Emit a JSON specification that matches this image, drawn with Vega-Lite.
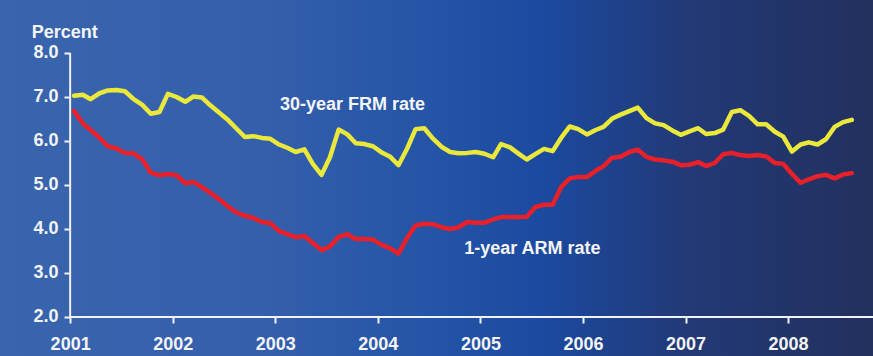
{
  "$schema": "https://vega.github.io/schema/vega-lite/v6.json",
  "width": 873,
  "height": 356,
  "autosize": "none",
  "padding": 0,
  "background": "#3965ae",
  "view": {
    "stroke": null,
    "fill": {
      "gradient": "linear",
      "x1": 0, "y1": 0, "x2": 1, "y2": 0,
      "stops": [
        {"offset": 0, "color": "#3965ae"},
        {"offset": 0.3, "color": "#345fac"},
        {"offset": 0.5, "color": "#2454a6"},
        {"offset": 0.62, "color": "#1b4aa0"},
        {"offset": 0.78, "color": "#223a78"},
        {"offset": 1, "color": "#22305d"}
      ]
    }
  },
  "config": {
    "axis": {
      "grid": false,
      "domain": false,
      "ticks": true,
      "tickColor": "#f2f2f2",
      "tickWidth": 2,
      "tickSize": 6,
      "labelFont": "Liberation Sans",
      "labelFontWeight": "bold",
      "labelFontSize": 18,
      "labelColor": "#f4f4f4",
      "labelOverlap": false,
      "labelFlush": false
    }
  },
  "layer": [
    {
      "data": {"values": [{"bg": 1}]},
      "mark": {"type": "rule", "color": "#f2f2f2", "strokeWidth": 2},
      "encoding": {
        "x": {"datum": {"year": 2001, "month": 1, "date": 1, "utc": true}, "type": "temporal"},
        "y": {"datum": 2, "type": "quantitative"},
        "y2": {"datum": 8}
      }
    },
    {
      "data": {"values": [{"bg": 1}]},
      "mark": {"type": "rule", "color": "#f2f2f2", "strokeWidth": 2},
      "encoding": {
        "x": {"datum": {"year": 2001, "month": 1, "date": 1, "utc": true}, "type": "temporal"},
        "x2": {"datum": {"year": 2008, "month": 10, "date": 29, "hours": 12, "utc": true}},
        "y": {"datum": 2, "type": "quantitative"}
      }
    },
    {
      "data": {
        "values": [
          {"date": "2001-01-15", "frm": 7.03, "arm": 6.68},
          {"date": "2001-02-15", "frm": 7.05, "arm": 6.40},
          {"date": "2001-03-15", "frm": 6.95, "arm": 6.25},
          {"date": "2001-04-15", "frm": 7.08, "arm": 6.08},
          {"date": "2001-05-15", "frm": 7.15, "arm": 5.88},
          {"date": "2001-06-15", "frm": 7.16, "arm": 5.83},
          {"date": "2001-07-15", "frm": 7.13, "arm": 5.73},
          {"date": "2001-08-15", "frm": 6.95, "arm": 5.72},
          {"date": "2001-09-15", "frm": 6.82, "arm": 5.58},
          {"date": "2001-10-15", "frm": 6.62, "arm": 5.28},
          {"date": "2001-11-15", "frm": 6.66, "arm": 5.22},
          {"date": "2001-12-15", "frm": 7.07, "arm": 5.25},
          {"date": "2002-01-15", "frm": 7.00, "arm": 5.22},
          {"date": "2002-02-15", "frm": 6.89, "arm": 5.04},
          {"date": "2002-03-15", "frm": 7.01, "arm": 5.07},
          {"date": "2002-04-15", "frm": 6.99, "arm": 4.95},
          {"date": "2002-05-15", "frm": 6.81, "arm": 4.82},
          {"date": "2002-06-15", "frm": 6.65, "arm": 4.68},
          {"date": "2002-07-15", "frm": 6.49, "arm": 4.52},
          {"date": "2002-08-15", "frm": 6.29, "arm": 4.38},
          {"date": "2002-09-15", "frm": 6.09, "arm": 4.30},
          {"date": "2002-10-15", "frm": 6.11, "arm": 4.25},
          {"date": "2002-11-15", "frm": 6.07, "arm": 4.16},
          {"date": "2002-12-15", "frm": 6.05, "arm": 4.13},
          {"date": "2003-01-15", "frm": 5.92, "arm": 3.95},
          {"date": "2003-02-15", "frm": 5.84, "arm": 3.88},
          {"date": "2003-03-15", "frm": 5.75, "arm": 3.81},
          {"date": "2003-04-15", "frm": 5.81, "arm": 3.84},
          {"date": "2003-05-15", "frm": 5.48, "arm": 3.68},
          {"date": "2003-06-15", "frm": 5.23, "arm": 3.52},
          {"date": "2003-07-15", "frm": 5.63, "arm": 3.60},
          {"date": "2003-08-15", "frm": 6.26, "arm": 3.82},
          {"date": "2003-09-15", "frm": 6.15, "arm": 3.88},
          {"date": "2003-10-15", "frm": 5.95, "arm": 3.77},
          {"date": "2003-11-15", "frm": 5.93, "arm": 3.77},
          {"date": "2003-12-15", "frm": 5.88, "arm": 3.76},
          {"date": "2004-01-15", "frm": 5.74, "arm": 3.64},
          {"date": "2004-02-15", "frm": 5.64, "arm": 3.56},
          {"date": "2004-03-15", "frm": 5.45, "arm": 3.44},
          {"date": "2004-04-15", "frm": 5.83, "arm": 3.80},
          {"date": "2004-05-15", "frm": 6.27, "arm": 4.08},
          {"date": "2004-06-15", "frm": 6.29, "arm": 4.12},
          {"date": "2004-07-15", "frm": 6.06, "arm": 4.11},
          {"date": "2004-08-15", "frm": 5.87, "arm": 4.04},
          {"date": "2004-09-15", "frm": 5.75, "arm": 4.00},
          {"date": "2004-10-15", "frm": 5.72, "arm": 4.04},
          {"date": "2004-11-15", "frm": 5.73, "arm": 4.16},
          {"date": "2004-12-15", "frm": 5.75, "arm": 4.14},
          {"date": "2005-01-15", "frm": 5.71, "arm": 4.14},
          {"date": "2005-02-15", "frm": 5.63, "arm": 4.22},
          {"date": "2005-03-15", "frm": 5.93, "arm": 4.27},
          {"date": "2005-04-15", "frm": 5.86, "arm": 4.27},
          {"date": "2005-05-15", "frm": 5.72, "arm": 4.27},
          {"date": "2005-06-15", "frm": 5.58, "arm": 4.28},
          {"date": "2005-07-15", "frm": 5.70, "arm": 4.50},
          {"date": "2005-08-15", "frm": 5.82, "arm": 4.55},
          {"date": "2005-09-15", "frm": 5.77, "arm": 4.55},
          {"date": "2005-10-15", "frm": 6.07, "arm": 4.95},
          {"date": "2005-11-15", "frm": 6.33, "arm": 5.15},
          {"date": "2005-12-15", "frm": 6.27, "arm": 5.18},
          {"date": "2006-01-15", "frm": 6.15, "arm": 5.18},
          {"date": "2006-02-15", "frm": 6.25, "arm": 5.32},
          {"date": "2006-03-15", "frm": 6.32, "arm": 5.43},
          {"date": "2006-04-15", "frm": 6.51, "arm": 5.62},
          {"date": "2006-05-15", "frm": 6.60, "arm": 5.64},
          {"date": "2006-06-15", "frm": 6.68, "arm": 5.75},
          {"date": "2006-07-15", "frm": 6.76, "arm": 5.80},
          {"date": "2006-08-15", "frm": 6.52, "arm": 5.64},
          {"date": "2006-09-15", "frm": 6.40, "arm": 5.58},
          {"date": "2006-10-15", "frm": 6.36, "arm": 5.56},
          {"date": "2006-11-15", "frm": 6.24, "arm": 5.53},
          {"date": "2006-12-15", "frm": 6.14, "arm": 5.45},
          {"date": "2007-01-15", "frm": 6.22, "arm": 5.46},
          {"date": "2007-02-15", "frm": 6.29, "arm": 5.52},
          {"date": "2007-03-15", "frm": 6.16, "arm": 5.43},
          {"date": "2007-04-15", "frm": 6.18, "arm": 5.50},
          {"date": "2007-05-15", "frm": 6.26, "arm": 5.70},
          {"date": "2007-06-15", "frm": 6.66, "arm": 5.73},
          {"date": "2007-07-15", "frm": 6.70, "arm": 5.68},
          {"date": "2007-08-15", "frm": 6.57, "arm": 5.66},
          {"date": "2007-09-15", "frm": 6.38, "arm": 5.68},
          {"date": "2007-10-15", "frm": 6.38, "arm": 5.65},
          {"date": "2007-11-15", "frm": 6.21, "arm": 5.50},
          {"date": "2007-12-15", "frm": 6.10, "arm": 5.48},
          {"date": "2008-01-15", "frm": 5.76, "arm": 5.25},
          {"date": "2008-02-15", "frm": 5.92, "arm": 5.05},
          {"date": "2008-03-15", "frm": 5.97, "arm": 5.13},
          {"date": "2008-04-15", "frm": 5.92, "arm": 5.20},
          {"date": "2008-05-15", "frm": 6.04, "arm": 5.23},
          {"date": "2008-06-15", "frm": 6.32, "arm": 5.15},
          {"date": "2008-07-15", "frm": 6.43, "arm": 5.24},
          {"date": "2008-08-15", "frm": 6.48, "arm": 5.27}
        ]
      },
      "transform": [{"fold": ["frm", "arm"], "as": ["series", "rate"]}],
      "mark": {"type": "line", "strokeWidth": 4.5, "strokeJoin": "round", "strokeCap": "round"},
      "encoding": {
        "x": {
          "field": "date",
          "type": "temporal",
          "scale": {
            "type": "utc",
            "domain": [
              {"year": 2000, "month": 4, "date": 26, "hours": 7, "utc": true},
              {"year": 2008, "month": 10, "date": 29, "hours": 12, "utc": true}
            ]
          },
          "axis": {
            "title": null,
            "values": [
              {"year": 2001, "month": 1, "date": 1, "utc": true},
              {"year": 2002, "month": 1, "date": 1, "utc": true},
              {"year": 2003, "month": 1, "date": 1, "utc": true},
              {"year": 2004, "month": 1, "date": 1, "utc": true},
              {"year": 2005, "month": 1, "date": 1, "utc": true},
              {"year": 2006, "month": 1, "date": 1, "utc": true},
              {"year": 2007, "month": 1, "date": 1, "utc": true},
              {"year": 2008, "month": 1, "date": 1, "utc": true}
            ],
            "format": "%Y",
            "offset": -39,
            "labelPadding": 12,
            "labelDx": 4
          }
        },
        "y": {
          "field": "rate",
          "type": "quantitative",
          "scale": {"domain": [1.1136, 9.2045], "nice": false, "zero": false},
          "axis": {
            "title": null,
            "values": [2, 3, 4, 5, 6, 7, 8],
            "format": ".1f",
            "offset": -70,
            "labelPadding": 6,
            "labelBaseline": "middle",
            "labelDy": 6
          }
        },
        "color": {
          "field": "series",
          "type": "nominal",
          "scale": {"domain": ["frm", "arm"], "range": ["#ebe83c", "#e8202a"]},
          "legend": null
        }
      }
    },
    {
      "data": {"values": [{"bg": 1}]},
      "mark": {"type": "text", "text": "30-year FRM rate", "font": "Liberation Sans", "fontWeight": "bold", "fontSize": 18, "color": "#f5f5f5", "align": "left", "baseline": "alphabetic"},
      "encoding": {
        "x": {"datum": {"year": 2003, "month": 1, "date": 18, "utc": true}, "type": "temporal"},
        "y": {"datum": 6.71, "type": "quantitative"}
      }
    },
    {
      "data": {"values": [{"bg": 1}]},
      "mark": {"type": "text", "text": "1-year ARM rate", "font": "Liberation Sans", "fontWeight": "bold", "fontSize": 18, "color": "#f5f5f5", "align": "left", "baseline": "alphabetic"},
      "encoding": {
        "x": {"datum": {"year": 2004, "month": 11, "date": 4, "utc": true}, "type": "temporal"},
        "y": {"datum": 3.43, "type": "quantitative"}
      }
    },
    {
      "data": {"values": [{"bg": 1}]},
      "mark": {"type": "text", "text": "Percent", "font": "Liberation Sans", "fontWeight": "bold", "fontSize": 18, "color": "#f5f5f5", "align": "left", "baseline": "alphabetic"},
      "encoding": {
        "x": {"datum": {"year": 2000, "month": 8, "date": 17, "utc": true}, "type": "temporal"},
        "y": {"datum": 8.334, "type": "quantitative"}
      }
    }
  ]
}
